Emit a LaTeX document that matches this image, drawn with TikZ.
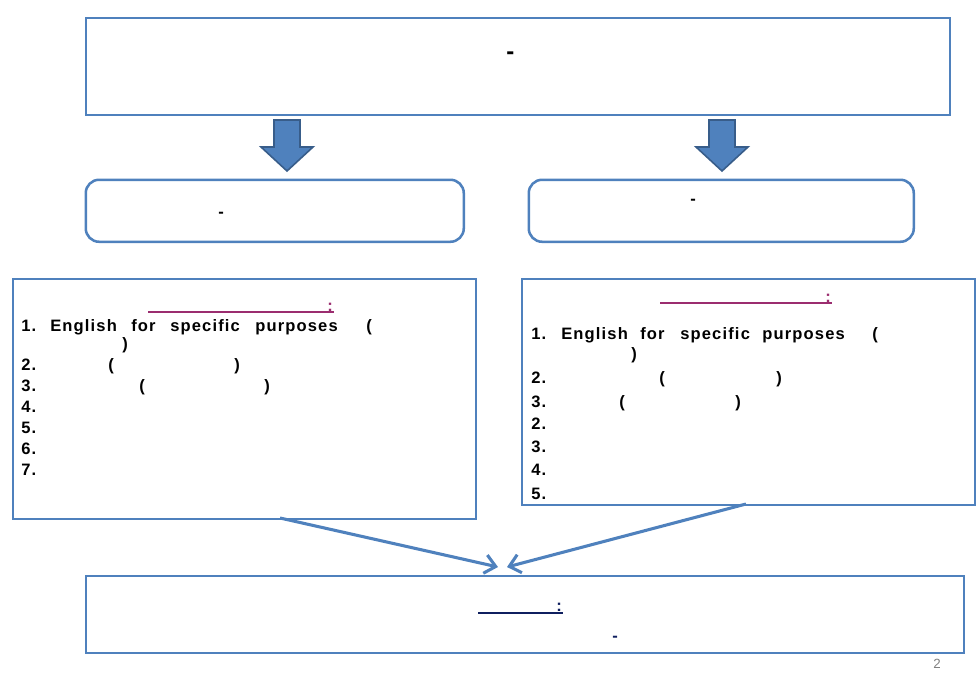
\documentclass[tikz,border=0pt]{standalone}
\usepackage{fontspec}
\setmainfont{Liberation Sans}
\usetikzlibrary{arrows.meta}
\definecolor{boxblue}{HTML}{4F81BD}
\definecolor{darkblue}{HTML}{385D8A}
\definecolor{plum}{HTML}{9B2D6F}
\definecolor{navy}{HTML}{0F1F5F}
\tikzset{
  frame/.style={draw=boxblue, line width=1.9pt, fill=white},
  rframe/.style={draw=boxblue, line width=1.9pt, fill=white, rounded corners=10pt},
  txt/.style={font=\bfseries\fontsize{12.4}{14}\selectfont\addfontfeature{LetterSpace=7}, anchor=base west, inner sep=0pt},
  blockarrow/.style={fill=boxblue, draw=darkblue, line width=1.2pt, line join=miter},
  conn/.style={draw=boxblue, line width=2.3pt, -{Straight Barb[length=8pt,width=14pt,line width=2.3pt]}},
}
\begin{document}
\begin{tikzpicture}[x=0.75pt,y=-0.75pt]
\useasboundingbox (0,0) rectangle (978,676);
% top box
\node[frame, minimum width=864*0.75pt, minimum height=97*0.75pt, anchor=north west, inner sep=0pt] (top) at (84.5,16.5) {};
\node[txt, font=\bfseries\fontsize{18}{20}\selectfont] (topdash) at (506,59) {-};
% block arrows
\path[blockarrow] (274,120) -- (300,120) -- (300,147) -- (313,147) -- (287,171) -- (261,147) -- (274,147) -- cycle;
\path[blockarrow] (709,120) -- (735,120) -- (735,147) -- (748,147) -- (722,171) -- (696,147) -- (709,147) -- cycle;
% middle rounded boxes
\node[rframe, minimum width=378*0.75pt, minimum height=62*0.75pt, anchor=north west, inner sep=0pt] (ml) at (84.5,178.5) {};
\node[rframe, minimum width=385*0.75pt, minimum height=62*0.75pt, anchor=north west, inner sep=0pt] (mr) at (527.5,178.5) {};
\node[txt] (mld) at (218,217) {-};
\node[txt] (mrd) at (690,204) {-};
% lower boxes
\node[frame, minimum width=463*0.75pt, minimum height=240*0.75pt, anchor=north west, inner sep=0pt] (bl) at (11.5,277.5) {};
\node[frame, minimum width=453*0.75pt, minimum height=226*0.75pt, anchor=north west, inner sep=0pt] (br) at (520.5,277.5) {};
% left list
\draw[plum, line width=1.8pt] (148,312) -- (334,312);
\node[txt, text=plum] (lc) at (327,311) {:};
\node[txt] at (21,331) {1.};
\node[txt] at (50,331) {English};
\node[txt] at (131,331) {for};
\node[txt] at (170,331) {specific};
\node[txt] at (255,331) {purposes};
\node[txt] at (366,331) {(};
\node[txt] at (122,349) {)};
\node[txt] at (21,370) {2.};
\node[txt] at (108,370) {(};
\node[txt] at (234,370) {)};
\node[txt] at (21,391) {3.};
\node[txt] at (139,391) {(};
\node[txt] at (264,391) {)};
\node[txt] at (21,412) {4.};
\node[txt] at (21,433) {5.};
\node[txt] at (21,454) {6.};
\node[txt] at (21,475) {7.};
% right list
\draw[plum, line width=1.8pt] (660,303) -- (832,303);
\node[txt, text=plum] (rc) at (825,302) {:};
\node[txt] at (531,339) {1.};
\node[txt] at (561,339) {English};
\node[txt] at (640,339) {for};
\node[txt] at (680,339) {specific};
\node[txt] at (762,339) {purposes};
\node[txt] at (872,339) {(};
\node[txt] at (631,359) {)};
\node[txt] at (531,383) {2.};
\node[txt] at (659,383) {(};
\node[txt] at (776,383) {)};
\node[txt] at (531,407) {3.};
\node[txt] at (619,407) {(};
\node[txt] at (735,407) {)};
\node[txt] at (531,429) {2.};
\node[txt] at (531,452) {3.};
\node[txt] at (531,475) {4.};
\node[txt] at (531,499) {5.};
% bottom box
\node[frame, minimum width=878*0.75pt, minimum height=77*0.75pt, anchor=north west, inner sep=0pt] (bot) at (84.5,574.5) {};
\draw[navy, line width=1.8pt] (478,613) -- (563,613);
\node[txt, text=navy] (bc) at (556,611) {:};
\node[txt, text=navy] (bd) at (612,641) {-};
\node[font=\fontsize{10}{11}\selectfont, text=gray, anchor=base, inner sep=0pt] (pg) at (937,668) {2};
% connectors
\coordinate (s1) at (280,518);
\coordinate (e1) at (498,567);
\coordinate (s2) at (746,504);
\coordinate (e2) at (507,567);
\draw[conn] (s1) -- (e1);
\draw[conn] (s2) -- (e2);
\end{tikzpicture}
\end{document}
